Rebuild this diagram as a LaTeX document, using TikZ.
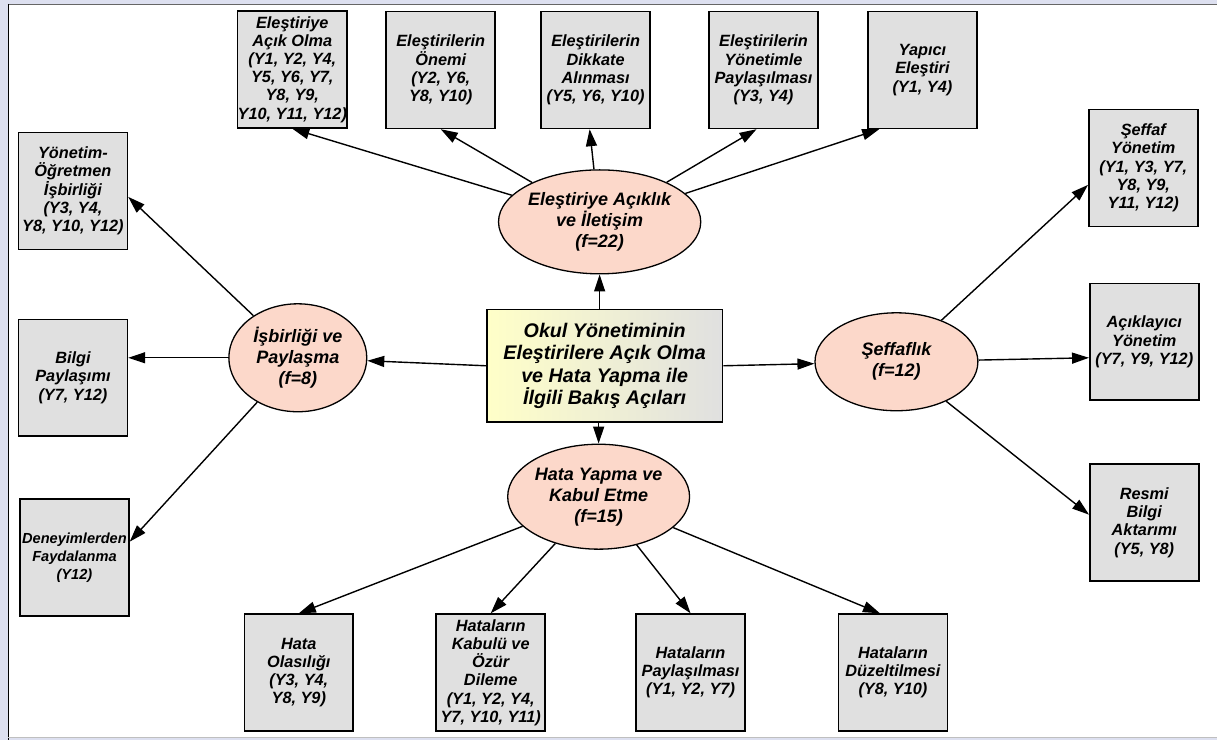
\documentclass[tikz,border=0pt]{standalone}
\usepackage{fontspec}
\setmainfont{Liberation Sans}
\usetikzlibrary{shapes.geometric,arrows.meta,calc}

\definecolor{frameband}{RGB}{221,224,240}
\definecolor{leafgray}{RGB}{224,224,224}
\definecolor{peach}{RGB}{252,216,202}
\definecolor{paleyellow}{RGB}{255,255,200}

\begin{document}
\begin{tikzpicture}[x=1pt,y=-1pt,
  leaf/.style={draw=black, line width=1.6pt, fill=leafgray,
    minimum width=109pt, minimum height=117pt, align=center, inner sep=0pt,
    font=\fontsize{16.3}{18.2}\selectfont\bfseries\itshape},
  theme/.style={ellipse, draw=black, line width=1.3pt, fill=peach,
    inner sep=0pt, align=center,
    font=\fontsize{18}{21}\selectfont\bfseries\itshape},
  link/.style={line width=1.4pt, -{Triangle[length=17pt,width=11pt]}}]

% window frame
\fill[frameband] (0,0) rectangle (1218,740);
\fill[white] (8,5) rectangle (1218,737);
\draw[line width=1.5pt, black!60] (8,4.5) -- (1218,4.5);
\draw[line width=1.5pt, black] (8.5,4) -- (8.5,740);
\draw[line width=1pt, black!25] (8,737.5) -- (1218,737.5);

% central topic
\node[draw=black, line width=1.6pt, left color=paleyellow, right color=leafgray,
  minimum width=236pt, minimum height=113pt, align=center,
  font=\fontsize{19.7}{22.5}\selectfont\bfseries\itshape] (C) at (605,366)
  {Okul Yönetiminin\\Eleştirilere Açık Olma\\ve Hata Yapma ile\\İlgili Bakış Açıları};

% themes
\node[theme, minimum width=178pt, minimum height=104pt] (Et) at (600,222)
  {Eleştiriye Açıklık\\ve İletişim\\(f=22)};
\node[theme, minimum width=138pt, minimum height=108pt] (El) at (298,358)
  {İşbirliği ve\\Paylaşma\\(f=8)};
\node[theme, minimum width=163pt, minimum height=98pt] (Er) at (897,362)
  {Şeffaflık\\(f=12)};
\node[theme, minimum width=182pt, minimum height=105pt] (Eb) at (599,497)
  {Hata Yapma ve\\Kabul Etme\\(f=15)};

% top codes
\node[leaf] (B1) at (292.5,69.5) {Eleştiriye\\Açık Olma\\(Y1, Y2, Y4,\\Y5, Y6, Y7,\\Y8, Y9,\\Y10, Y11, Y12)};
\node[leaf] (B2) at (441,70) {Eleştirilerin\\Önemi\\(Y2, Y6,\\Y8, Y10)};
\node[leaf] (B3) at (596,70) {Eleştirilerin\\Dikkate\\Alınması\\(Y5, Y6, Y10)};
\node[leaf] (B4) at (764,70) {Eleştirilerin\\Yönetimle\\Paylaşılması\\(Y3, Y4)};
\node[leaf] (B5) at (923,70) {Yapıcı\\Eleştiri\\(Y1, Y4)};

% left codes
\node[leaf] (L1) at (73,191) {Yönetim-\\Öğretmen\\İşbirliği\\(Y3, Y4,\\Y8, Y10, Y12)};
\node[leaf] (L2) at (73,378) {Bilgi\\Paylaşımı\\(Y7, Y12)};
\node[leaf, font=\fontsize{14.6}{18}\selectfont\bfseries\itshape] (L3) at (74.5,558)
  {Deneyimlerden\\Faydalanma\\(Y12)};

% right codes
\node[leaf] (R1) at (1144,168) {Şeffaf\\Yönetim\\(Y1, Y3, Y7,\\Y8, Y9,\\Y11, Y12)};
\node[leaf] (R2) at (1145,342) {Açıklayıcı\\Yönetim\\(Y7, Y9, Y12)};
\node[leaf] (R3) at (1145,523) {Resmi\\Bilgi\\Aktarımı\\(Y5, Y8)};

% bottom codes
\node[leaf] (D1) at (299,673) {Hata\\Olasılığı\\(Y3, Y4,\\Y8, Y9)};
\node[leaf] (D2) at (491,673) {Hataların\\Kabulü ve\\Özür\\Dileme\\(Y1, Y2, Y4,\\Y7, Y10, Y11)};
\node[leaf] (D3) at (691,673) {Hataların\\Paylaşılması\\(Y1, Y2, Y7)};
\node[leaf] (D4) at (893.5,673) {Hataların\\Düzeltilmesi\\(Y8, Y10)};

% central topic to themes
\draw[link] (Et.south |- C.north) -- (Et.south);
\draw[link] (C.west) -- (El);
\draw[link] (C.east) -- (Er);
\draw[link] (Eb.north |- C.south) -- (Eb.north);

% themes to codes
\draw[link] (Et) -- (B1.south);
\draw[link] (Et) -- (B2.south);
\draw[link] (Et) -- ([xshift=-6pt]B3.south);
\draw[link] (Et) -- ([xshift=-7pt]B4.south);
\draw[link] (Et) -- ([xshift=12pt]B5.south west);

\draw[link] (El) -- ([yshift=-6pt]L1.east);
\draw[link] (El.west) -- (El.west -| L2.east);
\draw[link] (El) -- ([yshift=16pt]L3.east);

\draw[link] (Er) -- ([yshift=-17pt]R1.west);
\draw[link] (Er) -- ([yshift=-16pt]R2.west);
\draw[link] (Er) -- ([yshift=8pt]R3.west);

\draw[link] (Eb) -- (D1.north);
\draw[link] (Eb) -- (D2.north);
\draw[link] (Eb) -- (D3.north);
\draw[link] (Eb) -- ([xshift=-13pt]D4.north);
\end{tikzpicture}
\end{document}
